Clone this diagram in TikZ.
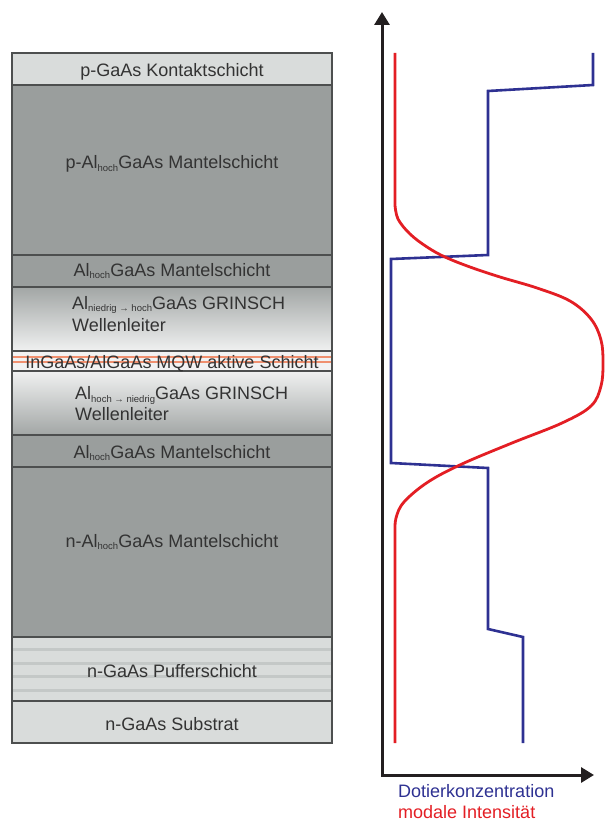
\documentclass[tikz,border=0pt]{standalone}
\usepackage{fontspec}
\setmainfont{Liberation Sans}
\usetikzlibrary{arrows.meta}

\definecolor{cladgrey}{HTML}{9A9E9D}
\definecolor{lightlayer}{HTML}{D9DCDB}
\definecolor{grindark}{HTML}{A2A6A5}
\definecolor{grinlight}{HTML}{F0F1F1}
\definecolor{mqwback}{HTML}{F2F2F2}
\definecolor{layeredge}{HTML}{4D4F4F}
\definecolor{labeltext}{HTML}{333333}
\definecolor{bufferstripe}{HTML}{C4C8C7}
\definecolor{wellorange}{HTML}{F0906F}
\definecolor{dopeblue}{HTML}{2E3192}
\definecolor{modered}{HTML}{E31E24}
\definecolor{axisblack}{HTML}{231F20}

% small lowered index text (e.g. Al_hoch)
\newcommand{\lowidx}[1]{\raisebox{-2.6pt}{\fontsize{9.5}{9.5}\selectfont #1}}

\begin{document}
\begin{tikzpicture}[x=1pt,y=-1pt,
  layertext/.style={text=labeltext, font=\fontsize{18}{22}\selectfont, inner sep=0pt, anchor=base},
  layertextleft/.style={layertext, anchor=base west},
  boundary/.style={draw=layeredge, line width=1.1pt},
  axisline/.style={draw=axisblack, line width=3pt, line join=miter,
    {Triangle[length=13pt,width=15pt]}-{Triangle[length=13pt,width=15pt]}},
  dopeline/.style={draw=dopeblue, line width=2.6pt, line join=miter},
  modeline/.style={draw=modered, line width=2.8pt},
  legend/.style={font=\fontsize{18}{22}\selectfont, inner sep=0pt, anchor=base west}]
\useasboundingbox (0,0) rectangle (606,821);

% ---------- layer stack ----------
\fill[lightlayer] (12,53) rectangle (332,85);
\fill[cladgrey] (12,85) rectangle (332,287);
\shade[top color=grindark, bottom color=grinlight] (12,287) rectangle (332,351);
\fill[mqwback] (12,351) rectangle (332,371);
\shade[top color=grinlight, bottom color=grindark] (12,371) rectangle (332,435);
\fill[cladgrey] (12,435) rectangle (332,637);
\fill[lightlayer] (12,637) rectangle (332,743);
% buffer superlattice stripes
\foreach \yy in {649,663,676,690}
  \fill[bufferstripe] (12,\yy-1.5) rectangle (332,\yy+1.5);
% quantum wells
\foreach \yy in {356.7,362.3}
  \draw[wellorange, line width=2pt] (12,\yy) -- (332,\yy);
% layer boundaries
\foreach \yy in {85,255,287,351,371,435,467,637,701}
  \draw[boundary] (12,\yy) -- (332,\yy);
\draw[boundary] (12,53) rectangle (332,743);

% ---------- layer labels ----------
\node[layertext] (kontakt) at (172,77) {p-GaAs Kontaktschicht};
\node[layertext] (pmantel) at (172,169) {p-Al\lowidx{hoch}GaAs Mantelschicht};
\node[layertext] (mantelA) at (172,276) {Al\lowidx{hoch}GaAs Mantelschicht};
\node[layertextleft] (grinA1) at (72,309) {Al\lowidx{niedrig → hoch}GaAs GRINSCH};
\node[layertextleft] (grinA2) at (72,331.5) {Wellenleiter};
\node[layertext] (mqw) at (172,368.5) {InGaAs/AlGaAs MQW aktive Schicht};
\node[layertextleft] (grinB1) at (75,399.5) {Al\lowidx{hoch → niedrig}GaAs GRINSCH};
\node[layertextleft] (grinB2) at (75,420.5) {Wellenleiter};
\node[layertext] (mantelB) at (172,458) {Al\lowidx{hoch}GaAs Mantelschicht};
\node[layertext] (nmantel) at (172,547) {n-Al\lowidx{hoch}GaAs Mantelschicht};
\node[layertext] (puffer) at (172,677.5) {n-GaAs Pufferschicht};
\node[layertext] (substrat) at (172,730) {n-GaAs Substrat};

% ---------- profile diagram ----------
\coordinate (ytip) at (382,12);
\coordinate (origin) at (382,775);
\coordinate (xtip) at (594,775);
\draw[axisline] (ytip) -- (origin) -- (xtip);

% doping concentration
\draw[dopeline] (593,53) -- (593,85) -- (488,91) -- (488,255) -- (391,259)
  -- (391,463) -- (488,468) -- (488,629) -- (523,637) -- (523,743);

% optical mode intensity
\draw[modeline] (395,53) -- (395,205)
  plot[smooth, tension=0.6] coordinates {(395,205) (398,219) (410,234) (427,247)
    (445,257) (470,267) (500,277) (537,288) (570,301) (591,319) (601,340)
    (603,363) (601,386) (591,406) (562,423) (512,443) (462,464) (428,482)
    (404,502) (396,518) (395,532)}
  -- (395,743);

% legend
\node[legend, text=dopeblue] (dopelabel) at (398,797.3) {Dotierkonzentration};
\node[legend, text=modered] (modelabel) at (398,818.3) {modale Intensität};
\end{tikzpicture}
\end{document}
